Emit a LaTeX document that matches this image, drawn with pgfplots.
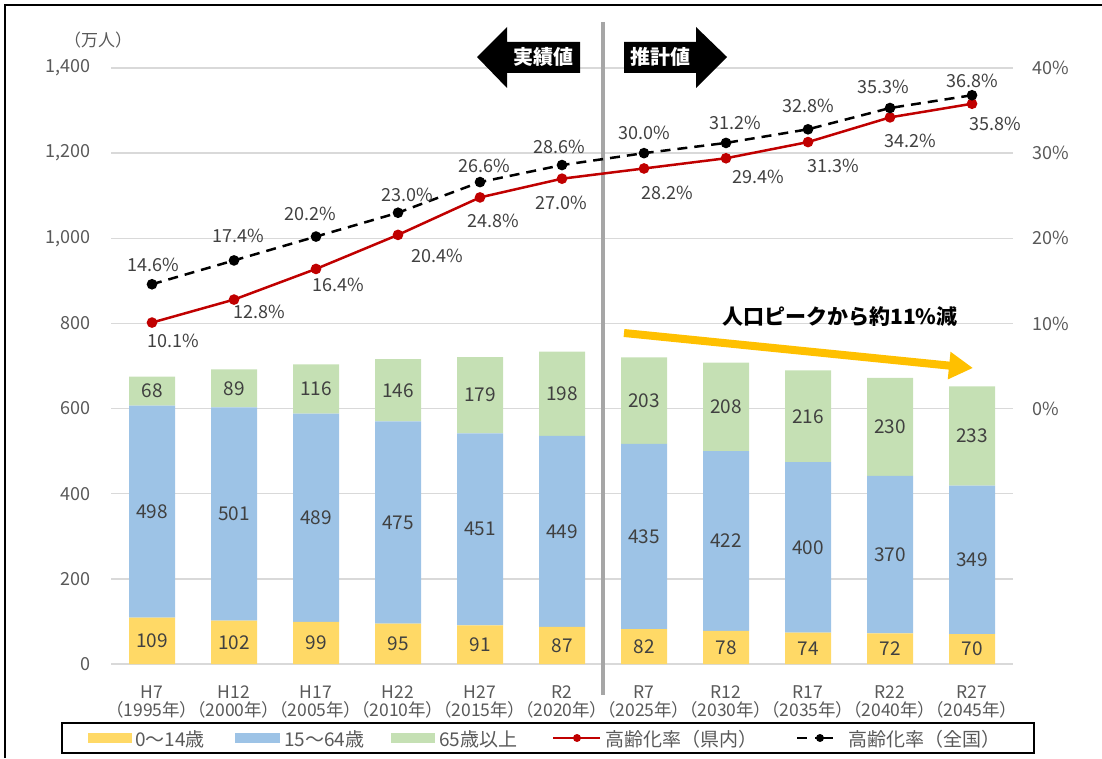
\documentclass[border=0pt]{standalone}
\usepackage{pgfplots}
\pgfplotsset{compat=1.18}
\usepackage{pgfplotstable}
\usepackage{fontspec}
\setmainfont{Noto Sans CJK JP}
\newfontfamily\palt{Noto Sans CJK JP}[RawFeature={+palt}]
\usetikzlibrary{arrows.meta}
\definecolor{cy}{HTML}{FFD966}
\definecolor{cb}{HTML}{9DC3E6}
\definecolor{cg}{HTML}{C5E0B4}
\definecolor{cr}{HTML}{C00000}
\definecolor{tg}{HTML}{595959}
\definecolor{td}{HTML}{404040}
\definecolor{gl}{HTML}{D9D9D9}
\definecolor{vl}{HTML}{A6A6A6}
\definecolor{ya}{HTML}{FFC000}

% y: 0-14, o: 15-64, w: 65+, r: rate (prefecture), n: rate (national)
% rdx/rdy, ndx/ndy: label offsets (pt) for the rate labels
\pgfplotstableread{
x y o w r n rdx rdy ndx ndy
0 109 498 68 10.1 14.6 21 -18 1 19
1 102 501 89 12.8 17.4 25 -12 4 25
2 99 489 116 16.4 20.2 22 -16 -6 23
3 95 475 146 20.4 23.0 39 -21 9 18
4 91 451 179 24.8 26.6 13 -23 4 16
5 87 449 198 27.0 28.6 -1 -24 -3 18
6 82 435 203 28.2 30.0 23 -24 0 20
7 78 422 208 29.4 31.2 32 -19 9 20
8 74 400 216 31.3 32.8 25 -24 0 23
9 72 370 230 34.2 35.3 20 -24 -7 21
10 70 349 233 35.8 36.8 23 -20 0 14
}\data
\pgfplotstablecreatecol[expr={\thisrow{y}/2}]{ly}\data
\pgfplotstablecreatecol[expr={\thisrow{y}+\thisrow{o}/2}]{lo}\data
\pgfplotstablecreatecol[expr={\thisrow{y}+\thisrow{o}+\thisrow{w}/2}]{lw}\data

\pgfplotsset{
  base/.style={at={(111pt,94pt)}, anchor=south west, width=902pt, height=596pt,
    scale only axis, xmin=-0.5, xmax=10.5, clip=false},
  barlab/.style={draw=none, point meta=explicit,
    nodes near coords={\pgfmathprintnumber[assume math mode=true]{\pgfplotspointmeta}},
    every node near coord/.append style={anchor=center, text=td, font=\fontsize{19}{21}\selectfont}},
}
\begin{document}
\begin{tikzpicture}
\useasboundingbox (0pt,0pt) rectangle (1102pt,758pt);
\begin{axis}[base, ymin=0, ymax=1400, ybar stacked, bar width=46pt,
  ytick={0,200,...,1400},
  yticklabel={\pgfmathprintnumber[assume math mode=true,1000 sep={,}]{\tick}},
  ymajorgrids, grid style={gl, line width=1.3pt},
  major tick length=0pt,
  axis line style={draw=none},
  xtick={0,...,10},
  xticklabels={{H7\\（1995年）},{H12\\（2000年）},{H17\\（2005年）},{H22\\（2010年）},{H27\\（2015年）},{R2\\（2020年）},{R7\\（2025年）},{R12\\（2030年）},{R17\\（2035年）},{R22\\（2040年）},{R27\\（2045年）}},
  xticklabel style={align=center, inner xsep=0pt, font=\palt\fontsize{17.5}{18.5}\selectfont, text=tg, yshift=-18pt},
  yticklabel style={font=\fontsize{18}{20}\selectfont, text=tg, xshift=-17pt},
]
\addplot[fill=cy, draw=none] table[x=x,y=y]{\data};
\addplot[fill=cb, draw=none] table[x=x,y=o]{\data};
\addplot[fill=cg, draw=none] table[x=x,y=w]{\data};
\end{axis}

\draw[vl, line width=4pt] (603pt,736pt) -- (603pt,63pt);

\begin{axis}[base, ymin=0, ymax=1400, hide axis]
\addplot[barlab] table[x=x, y=ly, meta=y]{\data};
\addplot[barlab] table[x=x, y=lo, meta=o]{\data};
\addplot[barlab] table[x=x, y=lw, meta=w]{\data};
\end{axis}

\begin{axis}[base, ymin=-30, ymax=40, axis y line*=right, axis x line=none,
  ytick={0,10,...,40},
  yticklabel={\pgfmathprintnumber[assume math mode=true]{\tick}\%},
  major tick length=0pt, axis line style={draw=none},
  yticklabel style={font=\fontsize{18}{20}\selectfont, text=tg, xshift=16pt}]
\addplot[cr, line width=2.5pt, mark=*, mark size=4pt, point meta=y,
  visualization depends on={\thisrow{rdx} \as \ldx},
  visualization depends on={\thisrow{rdy} \as \ldy},
  nodes near coords={\pgfmathprintnumber[assume math mode=true,fixed,fixed zerofill,precision=1]{\pgfplotspointmeta}\%},
  every node near coord/.append style={anchor=center, xshift=\ldx pt, yshift=\ldy pt, text=td, font=\fontsize{18}{20}\selectfont}]
  table[x=x,y=r]{\data};
\addplot[black, line width=2.5pt, dash pattern=on 10pt off 7pt, mark=*, mark size=4pt, mark options={solid}, point meta=y,
  visualization depends on={\thisrow{ndx} \as \ldx},
  visualization depends on={\thisrow{ndy} \as \ldy},
  nodes near coords={\pgfmathprintnumber[assume math mode=true,fixed,fixed zerofill,precision=1]{\pgfplotspointmeta}\%},
  every node near coord/.append style={anchor=center, xshift=\ldx pt, yshift=\ldy pt, text=td, font=\fontsize{18}{20}\selectfont}]
  table[x=x,y=n]{\data};
\end{axis}

% legend
\draw[black, line width=1.5pt] (62pt,5pt) rectangle (1034pt,35pt);
\begin{scope}[every node/.style={anchor=west, text=tg, font=\fontsize{19}{21}\selectfont, inner sep=0pt}]
\fill[cy] (88pt,15pt) rectangle (132pt,25pt);
\node at (135pt,19pt) {0～14歳};
\fill[cb] (235pt,15pt) rectangle (280pt,25pt);
\node at (284pt,19pt) {15～64歳};
\fill[cg] (391pt,15pt) rectangle (435pt,25pt);
\node at (439pt,19pt) {65歳以上};
\draw[cr, line width=2.5pt] (553pt,20pt) -- (600pt,20pt);
\fill[cr] (577pt,20pt) circle (4pt);
\node at (605pt,19pt) {高齢化率（県内）};
\draw[black, line width=2.5pt] (797pt,20pt) -- (807pt,20pt);
\draw[black, line width=2.5pt] (815pt,20pt) -- (833pt,20pt);
\fill[black] (820pt,20pt) circle (4pt);
\node at (848pt,19pt) {高齢化率（全国）};
\end{scope}

% outer frame
\draw[black, line width=1.5pt] (5pt,0pt) -- (5pt,753pt) -- (1102pt,753pt);
% unit label
\node[text=tg, font=\fontsize{17}{20}\selectfont] at (98pt,718pt) {（万人）};
% block arrows
\fill[black] (477pt,701pt) -- (507pt,731pt) -- (507pt,716pt) -- (580pt,716pt) -- (580pt,685pt) -- (507pt,685pt) -- (507pt,670pt) -- cycle;
\fill[black] (727pt,701pt) -- (696pt,731pt) -- (696pt,716pt) -- (624pt,716pt) -- (624pt,685pt) -- (696pt,685pt) -- (696pt,670pt) -- cycle;
\node[text=white, font=\bfseries\fontsize{20}{22}\selectfont] at (543pt,701pt) {実績値};
\node[text=white, font=\bfseries\fontsize{20}{22}\selectfont] at (660pt,701pt) {推計値};
% yellow arrow
\draw[ya, line width=8pt, -{Triangle[length=24pt,width=26pt]}] (624pt,425pt) -- (973pt,390pt);
\node[text=black, font=\bfseries\fontsize{21}{23}\selectfont] at (840pt,441pt) {人口ピークから約11\%減};
\end{tikzpicture}
\end{document}
